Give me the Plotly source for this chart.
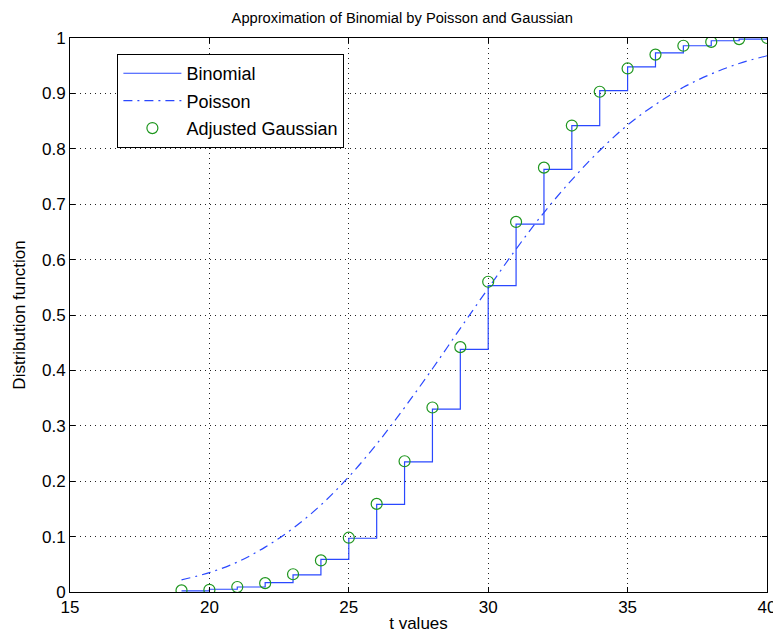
import plotly.graph_objects as go

t_values = list(range(19, 41))
binomial_cdf = [0.002, 0.005, 0.009, 0.017, 0.031, 0.059, 0.097, 0.158, 0.235, 0.330,
                0.438, 0.553, 0.664, 0.763, 0.842, 0.905, 0.948, 0.973, 0.986, 0.995,
                0.998, 1.000]
poisson_cdf = [0.022, 0.035, 0.054, 0.081, 0.115, 0.157, 0.208, 0.267, 0.333, 0.403,
               0.476, 0.548, 0.619, 0.685, 0.744, 0.797, 0.843, 0.880, 0.911, 0.935,
               0.954, 0.968]
gaussian_cdf = [0.003, 0.004, 0.009, 0.016, 0.032, 0.057, 0.098, 0.159, 0.236, 0.333,
                0.442, 0.560, 0.668, 0.766, 0.842, 0.903, 0.945, 0.970, 0.986, 0.993,
                0.998, 1.000]

x_ticks = [15, 20, 25, 30, 35, 40]
y_ticks = [0, 0.1, 0.2, 0.3, 0.4, 0.5, 0.6, 0.7, 0.8, 0.9, 1]
y_tick_labels = ["0", "0.1", "0.2", "0.3", "0.4", "0.5", "0.6", "0.7", "0.8", "0.9", "1"]

FONT = "Liberation Sans, Arial, Helvetica, sans-serif"
BLUE = "#2a48ff"
GREEN = "#1e961e"

fig = go.Figure()
fig.add_trace(go.Scatter(x=t_values, y=binomial_cdf, mode="lines", name="Binomial",
                         line=dict(color=BLUE, width=1.2, shape="hv"), legendgroup="a"))
fig.add_trace(go.Scatter(x=t_values, y=poisson_cdf, mode="lines", name="Poisson",
                         line=dict(color=BLUE, width=1.2, dash="9px,5px,2px,5px", shape="spline"),
                         legendgroup="b"))
fig.add_trace(go.Scatter(x=t_values, y=gaussian_cdf, mode="markers", name="Adjusted Gaussian",
                         marker=dict(symbol="circle-open", size=11, color=GREEN,
                                     line=dict(width=1.2, color=GREEN)),
                         legendgroup="c"))

axis_common = dict(
    showline=True, linecolor="black", linewidth=1, mirror="allticks",
    ticks="inside", ticklen=5, tickcolor="black",
    showgrid=True, gridcolor="#222", gridwidth=1, griddash="1px,4px",
    zeroline=False, tickfont=dict(family=FONT, size=17, color="black"),
)

fig.update_xaxes(range=[15, 40], tickvals=x_ticks,
                 title=dict(text="t values", font=dict(family=FONT, size=17, color="black"), standoff=0),
                 **axis_common)
fig.update_yaxes(range=[0, 1], tickvals=y_ticks, ticktext=y_tick_labels,
                 title=dict(text="Distribution function", font=dict(family=FONT, size=17, color="black"), standoff=12),
                 **axis_common)

# the page body adds an 8px offset; figure size and margins compensate for it
fig.update_layout(
    width=773, height=631,
    margin=dict(l=61.5, r=14, t=30, b=47, autoexpand=False),
    paper_bgcolor="white", plot_bgcolor="white",
    title=dict(text="Approximation of Binomial by Poisson and Gaussian",
               font=dict(family=FONT, size=14.7, color="black"),
               x=0.510, xanchor="center", y=0.993, yanchor="top"),
    legend=dict(x=0.068, y=0.971, xanchor="left", yanchor="top",
                bgcolor="white", bordercolor="black", borderwidth=1,
                font=dict(family=FONT, size=18, color="black"),
                traceorder="grouped", tracegroupgap=1, itemwidth=58),
    showlegend=True,
)

fig.write_html("out.html")
